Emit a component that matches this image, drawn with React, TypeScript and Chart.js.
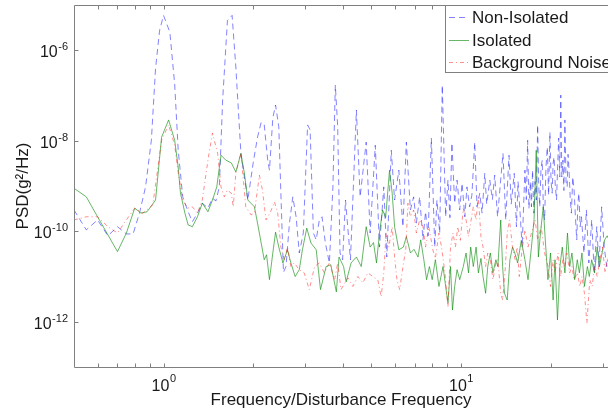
import React, { useEffect, useRef } from 'react';
import { Chart, registerables } from 'chart.js';

Chart.register(...registerables);

const FONT = "'Liberation Sans', Arial, Helvetica, sans-serif";
const TEXT = '#1a1a1a';
const FRAME = '#808080';

// ---- data (frequency ratio, log10 of PSD in g^2/Hz) ----
const nonIsoFreq = [
  0.5, 0.55, 0.6, 0.65, 0.7, 0.75, 0.79, 0.83, 0.87, 0.91, 0.94, 0.97, 1.0, 1.05, 1.09, 1.12, 1.16, 1.21, 1.25, 1.3,
  1.35, 1.41, 1.46, 1.5, 1.54, 1.58, 1.64, 1.7, 1.75, 1.82, 1.92, 2.0, 2.07, 2.13, 2.18, 2.24, 2.27, 2.33, 2.38, 2.44,
  2.48, 2.53, 2.58, 2.65, 2.72, 2.79, 2.86, 2.95, 3.05, 3.11, 3.19, 3.26, 3.34, 3.41, 3.5, 3.61, 3.71, 3.78, 3.85, 3.92,
  4.0, 4.09, 4.25, 4.45, 4.58, 4.8, 4.95, 5.15, 5.32, 5.5, 5.63, 5.83, 5.98, 6.18, 6.38, 6.55, 6.76, 6.93, 7.08, 7.26,
  7.45, 7.6, 7.75, 7.95, 8.16, 8.3, 8.48, 8.65, 8.88, 9.04, 9.18, 9.32, 9.52, 9.7, 9.9, 10.08, 10.3, 10.47, 10.69, 10.88,
  11.12, 11.32, 11.56, 11.77, 12.02, 12.2, 12.5, 12.75, 12.98, 13.27, 13.5, 13.84, 14.14, 14.5, 14.75, 15.1, 15.36, 15.55, 15.8, 16.05,
  16.4, 16.58, 16.75, 16.92, 17.1, 17.25, 17.4, 17.58, 17.75, 17.92, 18.1, 18.25, 18.4, 18.58, 18.75, 18.92, 19.1, 19.3, 19.5, 19.7,
  19.9, 20.08, 20.25, 20.4, 20.55, 20.75, 20.95, 21.12, 21.3, 21.48, 21.65, 21.82, 22.0, 22.18, 22.35, 22.55, 22.75, 22.9, 23.05, 23.3,
  23.5, 23.75, 24.0, 24.25, 24.5, 24.7, 24.9, 25.15, 25.4, 25.9, 26.4, 26.9, 27.5, 28.05, 28.6, 29.1, 29.7, 30.3, 30.9, 31.5,
];
const nonIsoLog = [
  -9.53, -9.97, -9.75, -10.1, -9.9, -10.06, -10.06, -9.6, -9.02, -7.99, -6.4, -5.56, -5.23, -5.6, -6.75, -8.2, -9.24, -9.57, -9.79, -9.6,
  -9.38, -9.49, -9.27, -9.33, -9.02, -7.1, -5.34, -5.23, -6.37, -8.28, -9.31, -8.5, -7.92, -7.59, -7.65, -8.43, -8.65, -7.5, -7.21, -7.69,
  -9.16, -10.91, -10.78, -9.82, -9.24, -9.68, -10.48, -10.04, -7.65, -7.76, -10.04, -10.19, -9.75, -9.68, -10.26, -10.7, -9.02, -6.77, -7.69, -10.48,
  -10.63, -9.31, -10.63, -7.32, -9.24, -8.03, -10.04, -8.1, -10.35, -9.02, -10.57, -8.21, -9.31, -8.65, -9.9, -8.03, -9.53, -9.24, -9.82, -9.24,
  -10.19, -9.57, -10.1, -7.94, -10.35, -9.31, -10.04, -6.77, -9.68, -8.87, -9.7, -8.05, -9.38, -8.87, -9.53, -8.94, -9.68, -9.02, -9.46, -9.2,
  -8.03, -9.46, -9.16, -9.6, -8.72, -9.4, -8.87, -9.3, -8.76, -9.68, -9.1, -8.28, -9.75, -8.32, -9.4, -8.72, -9.9, -8.9, -9.6, -10.35,
  -8.65, -9.3, -7.99, -9.5, -8.9, -9.46, -8.65, -9.6, -8.9, -9.31, -7.65, -9.0, -9.46, -8.6, -8.43, -9.5, -9.75, -8.6, -8.14, -9.2,
  -7.81, -8.9, -9.16, -8.5, -8.36, -9.0, -9.31, -8.6, -7.94, -8.8, -6.99, -8.8, -8.43, -9.1, -7.54, -8.9, -9.02, -8.3, -8.58, -9.3,
  -9.6, -8.8, -9.09, -9.7, -10.19, -9.4, -9.16, -9.9, -9.68, -10.48, -9.53, -10.7, -9.75, -10.92, -9.9, -10.78, -9.46, -10.35, -10.78, -10.5,
];

const isoFreq = [
  0.5, 0.55, 0.6, 0.65, 0.7, 0.75, 0.8, 0.84, 0.88, 0.94, 0.985, 1.04, 1.09, 1.12, 1.14, 1.18, 1.21, 1.25, 1.3, 1.35,
  1.41, 1.46, 1.51, 1.56, 1.62, 1.69, 1.75, 1.82, 1.87, 1.92, 2.02, 2.07, 2.18, 2.22, 2.27, 2.33, 2.38, 2.44, 2.52, 2.61,
  2.68, 2.77, 2.86, 2.93, 3.03, 3.13, 3.26, 3.37, 3.52, 3.65, 3.81, 3.89, 4.03, 4.11, 4.27, 4.45, 4.62, 4.8, 4.95, 5.08,
  5.2, 5.32, 5.45, 5.58, 5.75, 5.87, 5.98, 6.18, 6.4, 6.55, 6.76, 6.95, 7.17, 7.32, 7.5, 7.66, 7.83, 8.0, 8.2, 8.43,
  8.7, 8.88, 9.04, 9.22, 9.36, 9.52, 9.7, 9.9, 10.18, 10.4, 10.6, 10.78, 11.0, 11.24, 11.44, 11.67, 11.86, 12.1, 12.3, 12.55,
  12.8, 13.1, 13.3, 13.6, 13.8, 14.0, 14.3, 14.6, 14.9, 15.2, 15.5, 15.95, 16.4, 16.8, 17.25, 17.6, 17.9, 18.2, 18.5, 18.9,
  19.2, 19.6, 20.0, 20.4, 20.7, 21.1, 21.5, 21.9, 22.35, 22.8, 23.2, 23.6, 24.1, 24.6, 25.0, 25.5, 26.0, 26.6, 27.0, 27.5,
  28.1, 28.7, 29.2, 29.8, 30.4, 31.0, 31.5,
];
const isoLog = [
  -9.05, -9.24, -9.68, -10.08, -10.45, -10.04, -9.49, -9.6, -9.57, -9.31, -7.92, -7.54, -7.99, -8.58, -9.16, -9.6, -9.86, -9.9, -9.68, -9.38,
  -9.57, -9.31, -9.02, -8.32, -8.43, -8.49, -8.69, -8.28, -8.72, -9.31, -9.46, -9.82, -10.63, -10.52, -11.07, -10.48, -10.02, -10.35, -10.7, -10.41,
  -10.7, -11.0, -10.85, -10.41, -9.93, -10.26, -10.41, -11.29, -10.78, -10.74, -11.34, -10.57, -10.78, -11.12, -10.7, -10.57, -10.78, -9.9, -10.35, -10.25,
  -10.7, -10.04, -9.53, -9.7, -8.65, -9.16, -9.9, -10.41, -10.35, -10.12, -10.48, -10.4, -10.57, -10.19, -10.63, -11.07, -10.78, -11.07, -10.63, -11.22,
  -10.78, -11.22, -11.58, -10.78, -11.74, -11.22, -10.85, -11.07, -10.78, -10.48, -10.92, -10.35, -10.78, -10.35, -10.92, -10.6, -11.0, -11.37, -10.78, -10.48,
  -10.92, -10.63, -10.78, -9.75, -10.78, -11.37, -11.52, -10.63, -10.35, -10.5, -10.7, -10.2, -10.63, -11.07, -10.35, -9.75, -8.21, -10.57, -10.04, -9.46,
  -10.19, -11.07, -10.48, -11.52, -10.63, -11.96, -10.78, -10.35, -10.92, -10.04, -10.78, -10.48, -11.07, -10.63, -10.92, -10.48, -11.22, -10.78, -11.0, -10.63,
  -10.92, -10.35, -10.78, -10.48, -10.19, -10.1, -10.2,
];

const bgFreq = [
  0.5, 0.55, 0.6, 0.65, 0.7, 0.75, 0.8, 0.85, 0.92, 0.985, 1.04, 1.09, 1.12, 1.16, 1.205, 1.25, 1.3, 1.35, 1.41, 1.46,
  1.52, 1.56, 1.6, 1.64, 1.69, 1.715, 1.75, 1.82, 1.89, 1.97, 2.02, 2.1, 2.15, 2.21, 2.28, 2.36, 2.42, 2.48, 2.55, 2.61,
  2.68, 2.75, 2.86, 2.97, 3.09, 3.22, 3.34, 3.47, 3.61, 3.76, 3.85, 3.95, 4.06, 4.17, 4.33, 4.5, 4.68, 4.86, 5.05, 5.25,
  5.39, 5.5, 5.6, 5.72, 5.87, 5.98, 6.09, 6.22, 6.38, 6.52, 6.63, 6.76, 6.93, 7.08, 7.26, 7.45, 7.6, 7.8, 8.04, 8.2,
  8.43, 8.6, 8.83, 8.95, 9.04, 9.22, 9.4, 9.58, 9.75, 9.95, 10.18, 10.4, 10.6, 10.78, 11.0, 11.24, 11.44, 11.67, 11.86, 12.1,
  12.3, 12.55, 12.8, 13.1, 13.3, 13.6, 13.8, 14.1, 14.3, 14.55, 14.9, 15.2, 15.45, 15.7, 16.0, 16.4, 16.8, 17.25, 17.75, 18.1,
  18.6, 19.1, 19.6, 20.0, 20.4, 20.7, 21.2, 21.6, 22.0, 22.3, 22.7, 23.2, 23.6, 24.0, 24.6, 25.1, 25.5, 26.0, 26.5, 27.1,
  27.6, 28.1, 28.7, 29.3, 29.9, 30.5, 31.0, 31.5,
];
const bgLog = [
  -9.75, -9.68, -9.68, -9.9, -10.04, -9.75, -9.49, -9.6, -9.42, -7.99, -7.65, -8.1, -8.7, -9.31, -9.49, -9.46, -9.6, -9.31, -8.43, -7.83,
  -8.28, -9.02, -9.24, -9.09, -9.16, -9.46, -8.72, -8.28, -9.46, -9.64, -9.6, -8.76, -9.09, -9.75, -9.6, -9.35, -9.6, -10.35, -10.63, -10.35,
  -10.78, -10.7, -10.85, -10.92, -11.29, -10.78, -10.7, -10.92, -10.7, -11.07, -10.7, -11.29, -11.15, -11.03, -11.22, -11.0, -11.14, -10.92, -11.0, -11.07,
  -11.45, -10.92, -10.04, -10.35, -9.9, -10.57, -11.07, -11.29, -10.78, -10.41, -9.38, -9.68, -9.53, -10.04, -9.75, -9.9, -10.35, -9.9, -10.41, -10.6,
  -10.04, -10.35, -10.92, -11.37, -11.67, -10.35, -10.04, -10.35, -9.9, -10.2, -9.5, -9.75, -10.12, -9.8, -9.46, -9.75, -9.24, -10.12, -10.35, -10.78,
  -10.48, -10.63, -11.07, -10.7, -10.63, -11.37, -11.52, -10.78, -10.04, -9.75, -10.35, -10.63, -10.35, -11.0, -10.48, -9.97, -10.35, -10.04, -9.75, -10.19,
  -9.9, -10.48, -10.78, -11.22, -10.63, -10.92, -10.48, -11.0, -10.63, -10.78, -10.48, -10.92, -10.78, -11.07, -10.92, -11.22, -11.0, -11.37, -12.03, -11.07,
  -11.22, -10.78, -11.0, -10.63, -10.35, -10.92, -10.63, -10.7,
];

const seriesLabels = ['Non-Isolated', 'Isolated', 'Background Noise'];
const xAxisTitle = 'Frequency/Disturbance Frequency';
const yAxisTitle = 'PSD(g\u00B2/Hz)';

const xMin = 0.5;
const xMax = 31.2;
const yMin = 1e-13;
const yMax = 1e-5;

const xTickValues = [0.6, 0.7, 0.8, 0.9, 1, 2, 3, 4, 5, 6, 7, 8, 9, 10, 20, 30];
const xLabelValues = [1, 10];
const xLabelExps = ['0', '1'];
const yTickValues = [1e-12, 1e-10, 1e-8, 1e-6];
const yLabelExps = ['-12', '-10', '-8', '-6'];

const toPoints = (f: number[], e: number[]) => f.map((x, i) => ({ x, y: Math.pow(10, e[i]) }));

const decorPlugin = {
  id: 'decor',
  afterDatasetsDraw(chart: any) {
    const { ctx, chartArea: a } = chart;
    const xs = chart.scales.x;
    const ys = chart.scales.y;
    const L = a.left + 0.5;
    const R = a.right + 0.5;
    const T = a.top + 0.5;
    const B = a.bottom + 0.5;
    ctx.save();
    ctx.setLineDash([]);
    ctx.lineWidth = 1;
    ctx.strokeStyle = FRAME;
    ctx.beginPath();
    ctx.moveTo(L, B);
    ctx.lineTo(L, T);
    ctx.lineTo(R, T);
    ctx.lineTo(R, B);
    ctx.closePath();
    ctx.stroke();

    const tl = 4;
    ctx.beginPath();
    xTickValues.forEach((v) => {
      const px = Math.round(xs.getPixelForValue(v)) + 0.5;
      ctx.moveTo(px, B);
      ctx.lineTo(px, B - tl);
      ctx.moveTo(px, T);
      ctx.lineTo(px, T + tl);
    });
    yTickValues.forEach((v) => {
      const py = Math.round(ys.getPixelForValue(v)) + 0.5;
      ctx.moveTo(L, py);
      ctx.lineTo(L + tl, py);
    });
    ctx.stroke();

    const big = `16px ${FONT}`;
    const small = `11px ${FONT}`;
    ctx.fillStyle = TEXT;
    ctx.textAlign = 'left';
    ctx.textBaseline = 'alphabetic';
    xLabelValues.forEach((v, i) => {
      const px = xs.getPixelForValue(v);
      ctx.font = big;
      const w1 = ctx.measureText('10').width;
      ctx.font = small;
      const w2 = ctx.measureText(xLabelExps[i]).width;
      const x0 = px - (w1 + w2) / 2;
      ctx.font = big;
      ctx.fillText('10', x0, a.bottom + 24);
      ctx.font = small;
      ctx.fillText(xLabelExps[i], x0 + w1 + 0.5, a.bottom + 15);
    });
    yTickValues.forEach((v, i) => {
      const py = ys.getPixelForValue(v);
      ctx.font = big;
      const w1 = ctx.measureText('10').width;
      ctx.font = small;
      const w2 = ctx.measureText(yLabelExps[i]).width;
      const x0 = a.left - 6 - w1 - w2 - 0.5;
      ctx.font = big;
      ctx.fillText('10', x0, py + 7);
      ctx.font = small;
      ctx.fillText(yLabelExps[i], x0 + w1 + 0.5, py);
    });

    // legend box
    const lx = 445.5;
    const ly = T;
    const lb = 72.5;
    ctx.fillStyle = '#ffffff';
    ctx.fillRect(lx, ly, chart.width, lb - ly);
    ctx.strokeStyle = FRAME;
    ctx.strokeRect(lx, ly, chart.width, lb - ly);
    const rows = [17, 40, 62];
    chart.data.datasets.forEach((ds: any, i: number) => {
      const y = rows[i] + 0.5;
      ctx.strokeStyle = ds.borderColor;
      ctx.setLineDash(ds.borderDash || []);
      ctx.lineWidth = 1;
      ctx.beginPath();
      ctx.moveTo(449, y);
      ctx.lineTo(469, y);
      ctx.stroke();
      ctx.setLineDash([]);
      ctx.fillStyle = TEXT;
      ctx.font = `17px ${FONT}`;
      ctx.textBaseline = 'middle';
      ctx.textAlign = 'left';
      ctx.fillText(ds.label, 472, rows[i] + 1);
    });
    ctx.restore();
  },
};

export default function App() {
  const canvasRef = useRef<HTMLCanvasElement | null>(null);

  useEffect(() => {
    const canvas = canvasRef.current;
    if (!canvas) return;
    const chart = new Chart(canvas, {
      type: 'line',
      data: {
        datasets: [
          {
            label: seriesLabels[0],
            data: toPoints(nonIsoFreq, nonIsoLog),
            borderColor: 'rgba(30,30,255,0.55)',
            borderDash: [6, 4],
            borderWidth: 1,
            pointRadius: 0,
            tension: 0,
            fill: false,
            order: 3,
          },
          {
            label: seriesLabels[1],
            data: toPoints(isoFreq, isoLog),
            borderColor: 'rgba(0,135,0,0.6)',
            borderWidth: 1,
            pointRadius: 0,
            tension: 0,
            fill: false,
            order: 2,
          },
          {
            label: seriesLabels[2],
            data: toPoints(bgFreq, bgLog),
            borderColor: 'rgba(255,30,30,0.5)',
            borderDash: [4, 3, 1, 3],
            borderWidth: 1,
            pointRadius: 0,
            tension: 0,
            fill: false,
            order: 1,
          },
        ],
      },
      options: {
        animation: false,
        responsive: false,
        devicePixelRatio: 1,
        events: [],
        layout: { padding: { left: 0, top: 5, right: 12, bottom: 0 } },
        plugins: { legend: { display: false }, tooltip: { enabled: false } },
        scales: {
          x: {
            type: 'logarithmic',
            position: 'bottom',
            min: xMin,
            max: xMax,
            ticks: { display: false },
            grid: { display: false },
            border: { display: false },
            title: {
              display: true,
              text: xAxisTitle,
              color: TEXT,
              font: { family: FONT, size: 17 },
              padding: { top: 0, bottom: 3 },
            },
            afterFit: (s: any) => {
              s.height = 47;
              s.paddingLeft = 0;
              s.paddingRight = 0;
            },
          },
          y: {
            type: 'logarithmic',
            position: 'left',
            min: yMin,
            max: yMax,
            ticks: { display: false },
            grid: { display: false },
            border: { display: false },
            title: {
              display: true,
              text: yAxisTitle,
              color: TEXT,
              font: { family: FONT, size: 17 },
              padding: { top: 13, bottom: 0 },
            },
            afterFit: (s: any) => {
              s.width = 74;
              s.paddingTop = 0;
              s.paddingBottom = 0;
            },
          },
        },
      } as any,
      plugins: [decorPlugin],
    });
    return () => chart.destroy();
  }, []);

  return (
    <div style={{ position: 'fixed', left: 0, top: 0, width: 608, height: 414, overflow: 'hidden', background: '#fff' }}>
      <canvas ref={canvasRef} width={620} height={414} style={{ display: 'block', width: 620, height: 414 }} />
    </div>
  );
}
